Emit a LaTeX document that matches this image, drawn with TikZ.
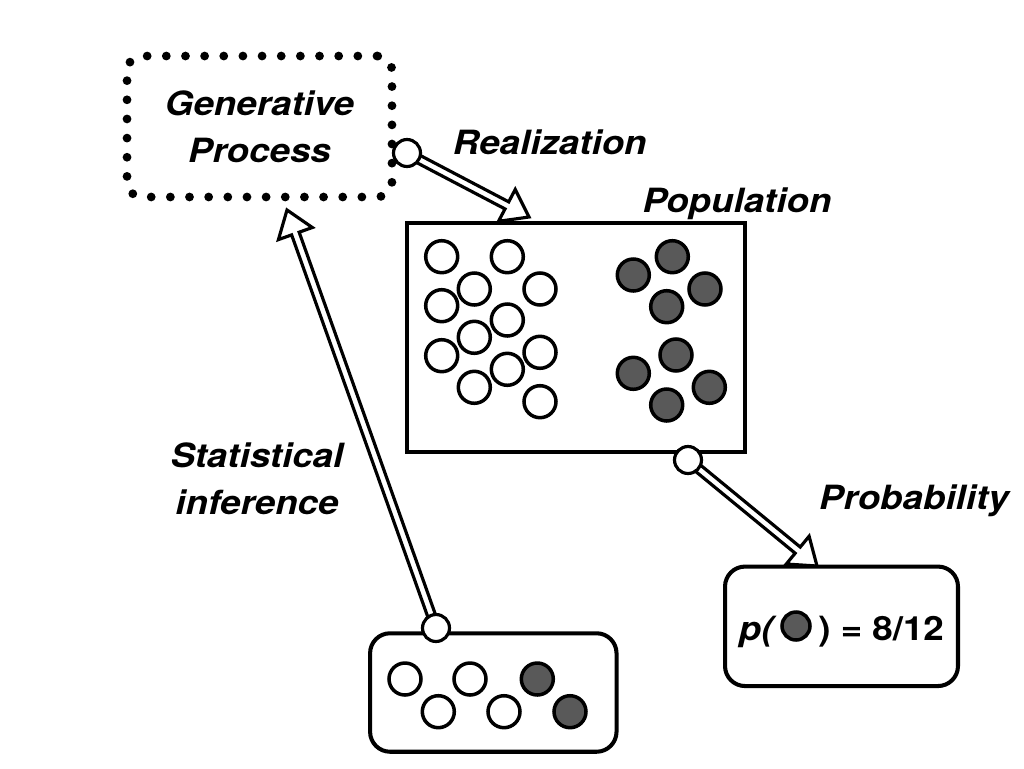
\documentclass[tikz,border=0pt]{standalone}
\usepackage{fontspec}
\setmainfont{TeX Gyre Heros}[FakeStretch=1.1]
\usetikzlibrary{calc}
\definecolor{dotgray}{HTML}{595959}
% hollow double-line arrow with open head, from #1 to #2
\newcommand{\hollowarrow}[2]{%
  \coordinate (hb) at ($(#2)!0.5cm!(#1)$);
  \draw[harrow] ($(#1)!0.08cm!90:(#2)$) -- ($(hb)!0.08cm!90:(#2)$) -- ($(hb)!0.36cm!90:(#2)$) -- (#2)
    -- ($(hb)!0.36cm!-90:(#2)$) -- ($(hb)!0.08cm!-90:(#2)$) -- ($(#1)!0.08cm!-90:(#2)$) -- cycle;}

\begin{document}
\begin{tikzpicture}[x=0.02cm,y=-0.02cm,
  lbl/.style={font=\fontsize{19}{27}\selectfont\bfseries\itshape,inner sep=0pt},
  box/.style={draw,line width=2.3pt,inner sep=0pt},
  rbox/.style={box,rounded corners=0.4cm},
  dotbox/.style={draw,line width=5pt,line cap=round,dash pattern=on 0pt off 10.9pt,rounded corners=0.3cm},
  wdot/.style={circle,draw,line width=2pt,fill=white,minimum size=0.64cm,inner sep=0pt},
  ddot/.style={wdot,fill=dotgray},
  knob/.style={circle,draw,line width=1.8pt,fill=white,minimum size=0.54cm,inner sep=0pt},
  harrow/.style={draw,fill=white,line width=1.8pt,line join=miter}]
\useasboundingbox (0,0) rectangle (1024,768);

% boxes
\node[dotbox,lbl,align=center,minimum width=5.3cm,minimum height=2.82cm] (gen) at (259.5,126.5) {Generative\\Process};
\node[box,minimum width=6.77cm,minimum height=4.58cm] (pop) at (575.8,337.2) {};
\node[rbox,minimum width=4.66cm,minimum height=2.39cm] (prob) at (841.5,626.3) {};
\node[rbox,minimum width=4.93cm,minimum height=2.37cm] (sample) at (493.3,692.5) {};

% population
\foreach \x/\y [count=\i] in {441.7/256.7,507.3/256.7,474.3/289,540/289,441.7/305.7,507.3/320,
  474.3/337.3,441.7/355.7,540/352.3,507.3/369.3,474.3/387.3,540/401.7}
  \node[wdot] (w\i) at (\x,\y) {};
\foreach \x/\y [count=\i] in {672.3/256.7,633.3/275,705/289,666.7/306.7,676/355,633.3/373.3,709.3/387.3,666.7/405}
  \node[ddot] (d\i) at (\x,\y) {};

% sample
\foreach \x/\y [count=\i] in {405/679,470/679,438.3/711.7,504/711.7}
  \node[wdot] (sw\i) at (\x,\y) {};
\foreach \x/\y [count=\i] in {537.3/679,570/711.7}
  \node[ddot] (sd\i) at (\x,\y) {};

% probability
\node[ddot,minimum size=0.56cm] (pd) at (796,626) {};
\node[lbl,anchor=base east] (pl) at (774,640) {p(};
\node[lbl,font=\fontsize{19}{27}\selectfont\bfseries,anchor=base west] (pr) at (818,640) {) = 8/12};

% arrows
\coordinate (t1) at (529,217);
\coordinate (t2) at (817,566);
\coordinate (t3) at (287,210);
\coordinate (s1) at (407,153);
\coordinate (s2) at (688,460);
\coordinate (s3) at (436,628);
\hollowarrow{s1}{t1}
\hollowarrow{s2}{t2}
\hollowarrow{s3}{t3}
\node[knob] (k1) at (s1) {};
\node[knob] (k2) at (s2) {};
\node[knob] (k3) at (s3) {};

% labels
\node[lbl,anchor=base] (real) at (549.7,154) {Realization};
\node[lbl,anchor=base] (poplbl) at (737,212) {Population};
\node[lbl,anchor=base] (problbl) at (914,509) {Probability};
\node[lbl,align=center] (inf) at (257,479) {Statistical\\inference};
\end{tikzpicture}
\end{document}
